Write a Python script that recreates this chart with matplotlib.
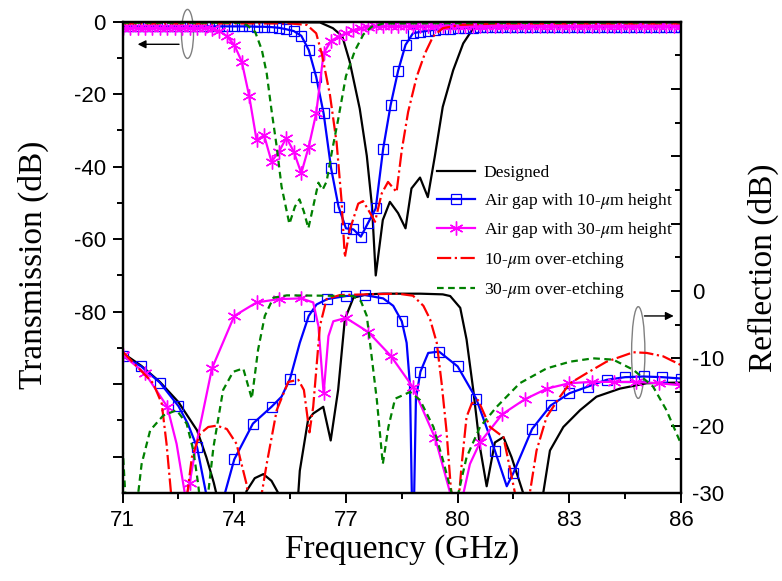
import numpy as np
import matplotlib.pyplot as plt
from matplotlib.patches import Ellipse
from matplotlib.ticker import FixedLocator, FuncFormatter

plt.rcParams['axes.unicode_minus'] = False
plt.rcParams['mathtext.fontset'] = 'stix'

# ---------------- transmission (left axis, dB) ----------------
# designed
f_t_des = [71.0, 76.3, 76.65, 76.9, 77.1, 77.37, 77.56, 77.7, 77.8, 77.99, 78.18, 78.4, 78.6,
           78.76, 78.99, 79.2, 79.39, 79.6, 79.88, 80.15, 80.42, 80.8, 81.2, 86.0]
t_des = [0.0, -0.2, -1.8, -4.0, -11.0, -24.0, -37.0, -51.0, -70.0, -54.7, -49.7, -52.8, -57.0,
         -46.0, -43.0, -48.4, -37.0, -23.5, -13.4, -6.0, -1.8, -0.6, -0.2, -0.1]

# air gaps (sampled every 0.2 GHz, marker on every point)
f_t_gap = np.round(np.arange(71.0, 86.001, 0.2), 1)
t_gap10 = [-1.3, -1.3, -1.3, -1.3, -1.3,
           -1.3, -1.3, -1.3, -1.3, -1.3,
           -1.3, -1.3, -1.3, -1.3, -1.3,
           -1.3, -1.3, -1.3, -1.4, -1.4,
           -1.5, -1.7, -2.1, -2.6, -3.9,
           -7.8, -15.2, -25.3, -40.4, -51.0,
           -57.0, -57.3, -59.3, -55.4, -51.5,
           -35.0, -23.0, -13.6, -6.4, -3.2,
           -2.8, -2.5, -2.2, -2.0, -1.9,
           -1.8, -1.7, -1.7, -1.6, -1.6,
           -1.6, -1.6, -1.6, -1.6, -1.6,
           -1.5, -1.5, -1.5, -1.5, -1.5,
           -1.5, -1.5, -1.5, -1.5, -1.5,
           -1.5, -1.5, -1.5, -1.5, -1.5,
           -1.5, -1.5, -1.5, -1.5, -1.5,
           -1.5]
t_gap30 = [-1.8, -1.8, -1.8, -1.8, -1.8,
           -1.8, -1.8, -1.8, -1.8, -1.8,
           -1.8, -1.8, -1.9, -2.6, -4.0,
           -6.4, -11.0, -20.5, -32.7, -31.3,
           -38.6, -35.9, -32.0, -35.9, -41.8,
           -34.5, -25.3, -8.7, -5.3, -4.1,
           -3.2, -2.4, -1.8, -1.4, -1.3,
           -1.3, -1.3, -1.3, -1.3, -1.3,
           -1.3, -1.3, -1.3, -1.3, -1.3,
           -1.3, -1.3, -1.3, -1.3, -1.3,
           -1.3, -1.3, -1.3, -1.3, -1.3,
           -1.3, -1.3, -1.3, -1.3, -1.3,
           -1.3, -1.3, -1.3, -1.3, -1.3,
           -1.3, -1.3, -1.3, -1.3, -1.3,
           -1.3, -1.3, -1.3, -1.3, -1.3,
           -1.3]

# over-etching
f_t_oe10 = [71.0, 75.5, 75.95, 76.2, 76.35, 76.57, 76.75, 76.88, 76.97, 77.1, 77.33, 77.46, 77.65,
            77.78, 77.96, 78.13, 78.36, 78.5, 78.67, 78.9, 79.12, 79.34, 79.6, 80.06, 81.0, 86.0]
t_oe10 = [-0.5, -0.5, -0.9, -3.2, -8.8, -20.2, -33.5, -49.2, -65.0, -57.5, -50.2, -49.5, -52.8,
          -55.2, -47.4, -44.2, -47.0, -35.4, -24.9, -15.2, -8.8, -4.1, -1.8, -0.9, -0.5, -0.5]
f_t_oe30 = [71.0, 74.1, 74.33, 74.56, 74.74, 74.87, 75.0, 75.14, 75.27, 75.48, 75.63, 75.75, 75.87,
            75.99, 76.12, 76.26, 76.37, 76.48, 76.62, 76.79, 77.0, 77.24, 77.47, 77.69, 78.0, 86.0]
t_oe30 = [-0.3, -0.3, -0.9, -2.8, -7.8, -14.2, -24.4, -34.5, -45.5, -55.8, -51.0, -49.0, -52.4,
          -57.0, -51.0, -44.4, -46.4, -44.1, -36.0, -27.0, -15.0, -8.0, -3.5, -1.4, -0.5, -0.2]

# ---------------- reflection (right axis, dB) ----------------
f_r_des = [71.0, 71.5, 72.0, 72.5, 73.0, 73.25, 73.45, 73.6, 73.8, 74.1, 74.33, 74.55, 74.78, 75.0,
           75.18, 75.35, 75.55, 75.72, 75.76, 75.98, 76.12, 76.39, 76.59, 76.79, 76.97, 77.2, 77.56,
           78.0, 79.0, 79.6, 79.8, 80.07, 80.24, 80.42, 80.6, 80.78, 81.0, 81.23, 81.45, 81.76, 82.0,
           82.3, 82.48, 82.84, 83.29, 83.73, 84.36, 85.08, 86.0]
r_des = [-9.2, -11.1, -13.5, -16.5, -20.7, -24.7, -28.5, -32.0, -38.0, -34.0, -29.7, -27.8, -27.2, -28.2,
         -30.0, -33.0, -33.0, -30.0, -26.7, -19.2, -18.2, -17.2, -22.2, -14.7, -4.2, -1.0, -0.5,
         -0.4, -0.4, -0.5, -0.75, -2.5, -7.2, -14.7, -23.2, -29.0, -22.5, -21.7, -24.7, -30.0, -36.0,
         -30.0, -23.7, -20.2, -17.7, -15.7, -14.5, -13.7, -13.6]

f_r_gap10 = [71.0, 71.5, 72.0, 72.5, 72.75, 73.0, 73.24, 73.5, 73.75, 74.0, 74.5, 75.0, 75.27, 75.5,
             75.76, 76.0, 76.21, 76.5, 77.0, 77.5, 78.0, 78.27, 78.5, 78.63, 78.72, 78.8, 78.88, 79.0,
             79.21, 79.5, 80.0, 80.5, 81.0, 81.32, 81.5, 82.0, 82.5, 83.0, 83.5, 84.0, 84.5, 85.0,
             85.5, 86.0]
r_gap10 = [-9.7, -11.2, -13.6, -17.1, -19.7, -23.2, -30.0, -38.0, -30.0, -25.0, -19.7, -17.2, -15.7, -13.0,
           -7.7, -3.7, -2.0, -1.2, -0.75, -0.6, -1.1, -2.2, -4.5, -7.7, -14.0, -40.0, -16.0, -12.0,
           -9.2, -9.0, -11.2, -16.0, -23.7, -29.0, -27.0, -20.5, -17.0, -15.2, -14.2, -13.2, -12.8, -12.7,
           -12.8, -13.0]

f_r_gap30 = [71.0, 71.6, 72.2, 72.45, 72.7, 72.8, 73.0, 73.4, 74.0, 74.6, 75.2, 75.8, 76.12, 76.26,
             76.4, 76.53, 76.66, 77.0, 77.6, 78.2, 78.8, 79.4, 79.8, 80.0, 80.33, 80.6, 81.2, 81.8,
             82.4, 83.0, 83.6, 84.2, 84.8, 85.4, 86.0]
r_gap30 = [-9.5, -12.2, -17.2, -22.7, -31.0, -28.5, -22.2, -11.5, -3.7, -1.7, -1.2, -1.1, -1.7, -5.2,
           -15.2, -6.7, -4.5, -4.0, -6.1, -9.6, -14.3, -21.9, -30.0, -34.0, -25.7, -22.5, -18.3, -16.1,
           -14.5, -13.7, -13.5, -13.5, -13.5, -13.7, -14.0]

f_r_oe10 = [71.0, 71.47, 71.82, 72.05, 72.18, 72.3, 72.5, 72.74, 72.86, 73.08, 73.3, 73.53, 73.8, 74.06,
            74.33, 74.5, 74.74, 74.87, 75.14, 75.45, 75.72, 75.87, 76.02, 76.12, 76.3, 76.48, 76.84,
            77.56, 78.4, 78.8, 79.08, 79.26, 79.44, 79.57, 79.7, 79.81, 79.95, 80.11, 80.24, 80.38,
            80.55, 80.87, 81.23, 81.4, 81.54, 81.75, 81.94, 82.12, 82.39, 82.75, 83.02, 83.47, 84.0,
            84.72, 85.08, 85.52, 86.0]
r_oe10 = [-9.0, -11.7, -13.7, -16.7, -22.7, -30.0, -38.0, -30.0, -24.7, -21.2, -20.2, -20.0, -20.5, -22.7,
          -28.7, -36.0, -30.0, -25.7, -17.7, -13.5, -13.2, -14.7, -21.0, -17.2, -5.2, -1.2, -0.6,
          -0.5, -0.4, -0.7, -2.2, -4.2, -7.7, -13.7, -20.7, -28.7, -36.0, -25.7, -18.7, -16.7,
          -16.2, -20.2, -21.7, -26.2, -30.0, -36.0, -30.0, -23.7, -18.7, -15.7, -13.7, -12.2, -10.5,
          -9.1, -9.2, -9.7, -11.0]

f_r_oe30 = [71.0, 71.07, 71.25, 71.42, 71.51, 71.74, 72.09, 72.45, 72.72, 72.9, 73.03, 73.15, 73.3,
            73.44, 73.7, 73.97, 74.24, 74.47, 74.64, 74.82, 75.05, 75.41, 76.48, 77.2, 77.4, 77.56,
            77.83, 77.99, 78.14, 78.32, 78.72, 78.99, 79.35, 79.61, 79.84, 79.93, 80.02, 80.24, 80.6,
            81.05, 81.67, 82.39, 83.02, 83.64, 84.18, 84.72, 85.25, 85.61, 86.0]
r_oe30 = [-23.2, -30.0, -38.0, -30.0, -25.7, -20.7, -18.5, -17.7, -19.7, -23.7, -28.7, -35.0, -30.0,
          -23.2, -14.7, -12.0, -11.5, -16.0, -8.7, -3.7, -1.0, -0.65, -0.7, -0.75, -1.5, -3.7,
          -16.2, -25.7, -20.2, -16.0, -15.0, -16.2, -20.2, -25.2, -30.0, -34.0, -30.0, -24.7, -20.2,
          -17.2, -13.7, -11.5, -10.5, -10.0, -10.2, -11.7, -14.2, -17.7, -22.7]

labels = ['Designed', r'Air gap with 10-$\mu$m height', r'Air gap with 30-$\mu$m height',
          r'10-$\mu$m over-etching', r'30-$\mu$m over-etching']
c_black, c_blue, c_mag, c_red, c_green = 'black', '#0000ff', '#ff00ff', '#ff0000', '#008000'

fig = plt.figure(figsize=(7.82, 5.81), dpi=100)
ax = fig.add_axes([0.1568, 0.1515, 0.714, 0.8112])
ax2 = ax.twinx()

lw = 1.6
star = (6, 2, 0)

# transmission
ax.plot(f_t_des, t_des, color=c_black, lw=lw)
ax.plot(f_t_gap, t_gap10, color=c_blue, lw=lw, marker='s', ms=7, mfc='none', mec=c_blue, mew=0.9)
ax.plot(f_t_gap, t_gap30, color=c_mag, lw=lw, marker=star, ms=10, mec=c_mag, mew=1.0)
ax.plot(f_t_oe10, t_oe10, color=c_red, lw=lw, ls='-.')
ax.plot(f_t_oe30, t_oe30, color=c_green, lw=lw, ls=(0, (3, 2)))

# reflection
f10 = np.array(f_r_gap10)
f30 = np.array(f_r_gap30)
mk10 = list(np.where(np.isclose((f10 * 2) % 1, 0))[0])
mk30 = list(np.where(np.isclose(((f30 - 71) / 0.6) % 1, 0, atol=1e-6) |
                     np.isclose(((f30 - 71) / 0.6) % 1, 1, atol=1e-6))[0])
h1, = ax2.plot(f_r_des, r_des, color=c_black, lw=lw)
h2, = ax2.plot(f_r_gap10, r_gap10, color=c_blue, lw=lw, marker='s', ms=7, mfc='none',
               mec=c_blue, mew=0.9, markevery=mk10)
h3, = ax2.plot(f_r_gap30, r_gap30, color=c_mag, lw=lw, marker=star, ms=10, mec=c_mag,
               mew=1.0, markevery=mk30)
h4, = ax2.plot(f_r_oe10, r_oe10, color=c_red, lw=lw, ls='-.')
h5, = ax2.plot(f_r_oe30, r_oe30, color=c_green, lw=lw, ls=(0, (3, 2)))

# axes
ax.set_xlim(71, 86)
ax.set_ylim(-130, 0)
ax2.set_ylim(-30, 40)

ax.xaxis.set_major_locator(FixedLocator([71, 74, 77, 80, 83, 86]))
ax.xaxis.set_minor_locator(FixedLocator([72.5, 75.5, 78.5, 81.5, 84.5]))
ax.yaxis.set_major_locator(FixedLocator([0, -20, -40, -60, -80, -100, -120]))
ax.yaxis.set_minor_locator(FixedLocator([-10, -30, -50, -70, -90, -110]))
ax.yaxis.set_major_formatter(FuncFormatter(lambda v, p: '%d' % v if v >= -80 else ''))
ax2.yaxis.set_major_locator(FixedLocator([-30, -20, -10, 0, 10, 20, 30, 40]))
ax2.yaxis.set_minor_locator(FixedLocator([-25, -15, -5, 5, 15, 25, 35]))
ax2.yaxis.set_major_formatter(FuncFormatter(lambda v, p: '%d' % v if v <= 0 else ''))

tick_font = 'Liberation Sans'
for a in (ax, ax2):
    for s in a.spines.values():
        s.set_linewidth(1.6)
ax.tick_params(axis='both', which='major', direction='out', length=7, width=1.4,
               labelsize=16, pad=5, top=False)
ax.tick_params(axis='both', which='minor', direction='out', length=4, width=1.4, top=False)
ax2.tick_params(axis='y', which='major', direction='in', length=7, width=1.4, labelsize=16, pad=8)
ax2.tick_params(axis='y', which='minor', direction='in', length=4, width=1.4)
for lab in ax.get_xticklabels() + ax.get_yticklabels() + ax2.get_yticklabels():
    lab.set_fontfamily(tick_font)

ax.set_xlabel('Frequency (GHz)', fontsize=24, family='Liberation Serif', va='center')
ax.set_ylabel('Transmission (dB)', fontsize=24, family='Liberation Serif', va='center')
ax2.set_ylabel('Reflection (dB)', fontsize=24, family='Liberation Serif', va='center')
ax.xaxis.set_label_coords(0.5, -0.12)
ax.yaxis.set_label_coords(-0.16, 0.484)
ax2.yaxis.set_label_coords(1.148, 0.477)

# ellipses and arrows
ax.add_patch(Ellipse((0.1162, 0.974), 0.0215, 0.104, transform=ax.transAxes,
                     fill=False, ec='#808080', lw=1.0, clip_on=False))
ax.annotate('', xy=(0.022, 0.952), xytext=(0.106, 0.952), xycoords='axes fraction',
            arrowprops=dict(arrowstyle='-|>', color='black', lw=1.0, mutation_scale=12))
ax.add_patch(Ellipse((0.9235, 0.298), 0.0238, 0.1946, transform=ax.transAxes,
                     fill=False, ec='#808080', lw=1.0, clip_on=False))
ax.annotate('', xy=(0.992, 0.3756), xytext=(0.9296, 0.3756), xycoords='axes fraction',
            arrowprops=dict(arrowstyle='-|>', color='black', lw=1.0, mutation_scale=12))

leg = ax2.legend([h1, h2, h3, h4, h5], labels, loc='upper left', bbox_to_anchor=(0.5625, 0.696),
                 frameon=False, borderpad=0, borderaxespad=0, handlelength=2.2,
                 handletextpad=0.5, labelspacing=0.55, numpoints=1,
                 prop={'family': 'Liberation Serif', 'size': 12.6})

fig.savefig('out.png', dpi=100)
